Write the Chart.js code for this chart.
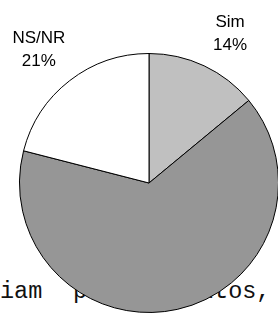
<!DOCTYPE html>
<html lang="pt">
<head>
    <meta charset="UTF-8" />
    <title>Pie</title>
    <script src="https://cdn.jsdelivr.net/npm/chart.js"></script>
    <style>
        html, body {
            margin: 0;
            padding: 0;
            background: #fff;
            overflow: hidden;
            width: 278px;
            height: 313px;
        }
        .bgtext {
            position: absolute;
            top: 280px;
            font-family: "Liberation Mono", "Courier New", monospace;
            font-size: 23.5px;
            line-height: 1;
            color: #111;
            white-space: pre;
            z-index: 0;
        }
        #wrap {
            position: absolute;
            left: 0;
            top: 0;
            width: 300px;
            height: 340px;
            z-index: 1;
        }
    </style>
</head>
<body>
    <div class="bgtext" style="left:0px">iam</div>
    <div class="bgtext" style="left:73px">procedimentos,</div>
    <div id="wrap"><canvas id="pie" width="300" height="340"></canvas></div>

    <script>
        const labels = ["Sim", "Não", "NS/NR"];
        const values = [14, 65, 21];
        const colors = ["#c0c0c0", "#969696", "#ffffff"];

        // labels outside the pie, along each slice's middle angle
        // (small nudges so they sit like the original ones)
        const nudge = [[8, 5], [0, 0], [-5, 2]];
        const outsideLabels = {
            id: "outsideLabels",
            afterDraw(chart) {
                const ctx = chart.ctx;
                const meta = chart.getDatasetMeta(0);
                ctx.save();
                ctx.font = "17px 'Liberation Sans', Arial, sans-serif";
                ctx.fillStyle = "#000";
                ctx.textAlign = "center";
                ctx.textBaseline = "middle";
                meta.data.forEach((arc, i) => {
                    const mid = (arc.startAngle + arc.endAngle) / 2;
                    const r = arc.outerRadius + 42;
                    const x = arc.x + Math.cos(mid) * r + nudge[i][0];
                    const y = arc.y + Math.sin(mid) * r + nudge[i][1];
                    ctx.fillText(labels[i], x, y - 11);
                    ctx.fillText(values[i] + "%", x, y + 12);
                });
                ctx.restore();
            }
        };

        new Chart(document.getElementById("pie"), {
            type: "pie",
            data: {
                labels: labels,
                datasets: [{
                    data: values,
                    backgroundColor: colors,
                    borderColor: "#000",
                    borderWidth: 1
                }]
            },
            options: {
                responsive: false,
                animation: false,
                layout: { padding: { left: 19, right: 21, top: 53, bottom: 27 } },
                plugins: {
                    legend: { display: false },
                    tooltip: { enabled: false }
                }
            },
            plugins: [outsideLabels]
        });
    </script>
</body>
</html>
